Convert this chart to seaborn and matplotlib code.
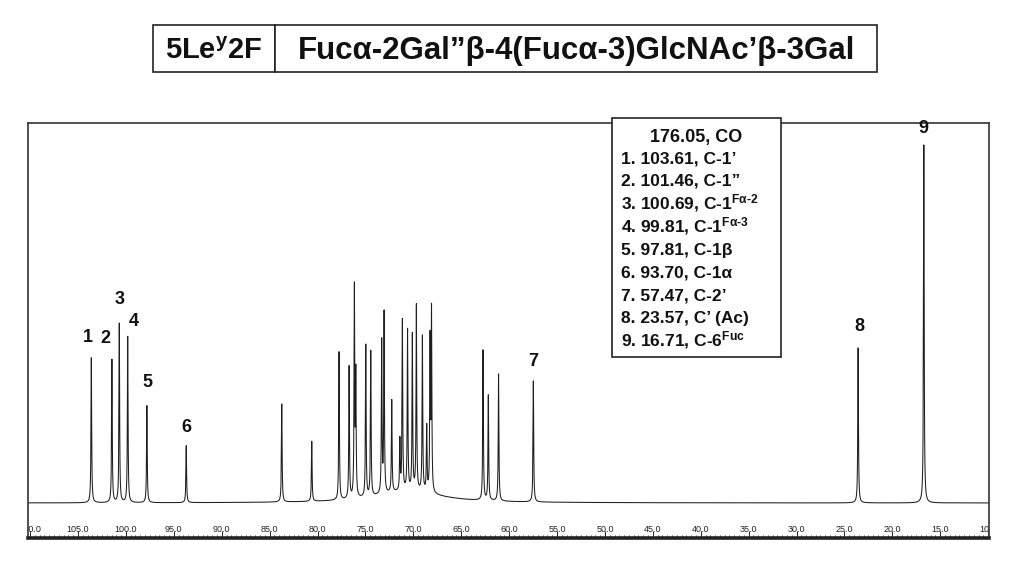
import numpy as np
import pandas as pd
import matplotlib
matplotlib.use("Agg")
import matplotlib.pyplot as plt
from matplotlib.patches import Rectangle
from matplotlib.ticker import FixedLocator, MultipleLocator
import seaborn as sns

# ---------------- data ----------------
label_ids = ["1", "2", "3", "4", "5", "6", "7", "8", "9"]
label_ppm = [103.61, 101.46, 100.69, 99.81, 97.81, 93.70, 57.47, 23.57, 16.71]
label_height = [145, 143, 179, 166, 97, 57, 121, 155, 358]

other_ppm = [83.73, 80.60, 77.75, 76.70, 76.15, 76.00, 74.96, 74.44, 73.30, 73.05,
             72.25, 71.40, 71.14, 70.60, 70.10, 69.68, 69.05, 68.60, 68.25, 68.10,
             62.72, 62.17, 61.10]
other_height = [98, 60, 148, 132, 208, 120, 152, 145, 152, 180,
                92, 50, 170, 160, 155, 185, 155, 65, 150, 180,
                150, 105, 127]

hump_ppm = [70.5]
hump_height = [12]
hump_width = [4.0]

tick_values = [110, 105, 100, 95, 90, 85, 80, 75, 70, 65, 60, 55, 50, 45, 40, 35, 30, 25, 20, 15, 10]
tick_labels = ["110.0", "105.0", "100.0", "95.0", "90.0", "85.0", "80.0", "75.0", "70.0", "65.0",
               "60.0", "55.0", "50.0", "45.0", "40.0", "35.0", "30.0", "25.0", "20.0", "15.0", "10.0"]

title_left = "5Le$^{y}$2F"
title_right = "Fucα-2Gal”β-4(Fucα-3)GlcNAc’β-3Gal"

legend_lines = [
    "176.05, CO",
    "1. 103.61, C-1’",
    "2. 101.46, C-1”",
    "3. 100.69, C-1$^{\\text{Fα-2}}$",
    "4. 99.81, C-1$^{\\text{Fα-3}}$",
    "5. 97.81, C-1β",
    "6. 93.70, C-1α",
    "7. 57.47, C-2’",
    "8. 23.57, C’ (Ac)",
    "9. 16.71, C-6$^{\\text{Fuc}}$",
]

# ---------------- style ----------------
sns.set_style("white")
plt.rcParams["font.family"] = ["Liberation Sans", "DejaVu Sans"]
plt.rcParams["mathtext.fontset"] = "custom"
plt.rcParams["mathtext.rm"] = "Liberation Sans:bold"
plt.rcParams["mathtext.bf"] = "Liberation Sans:bold"
plt.rcParams["mathtext.it"] = "Liberation Sans:bold"
plt.rcParams["mathtext.sf"] = "Liberation Sans:bold"
plt.rcParams["mathtext.default"] = "rm"

W, H = 1024, 574
fig = plt.figure(figsize=(W / 100, H / 100), dpi=100)

def fx(px):
    return px / W

def fy(py):
    return 1 - py / H

ax_l, ax_r, ax_t, ax_b = 28, 989, 123, 538
ax = fig.add_axes([fx(ax_l), fy(ax_b), (ax_r - ax_l) / W, (ax_b - ax_t) / H])

# ---------------- spectrum from the peak list ----------------
xlim = (110.22, 9.91)
grid = np.arange(xlim[1], xlim[0], 0.002)
hw = 0.04
spec = np.zeros_like(grid)
for p, h in zip(label_ppm + other_ppm, label_height + other_height):
    spec += h * hw ** 2 / ((grid - p) ** 2 + hw ** 2)
for p, h, w in zip(hump_ppm, hump_height, hump_width):
    spec += h * w ** 2 / ((grid - p) ** 2 + w ** 2)

df = pd.DataFrame({"ppm": grid, "intensity": spec})
sns.lineplot(data=df, x="ppm", y="intensity", ax=ax, color="#1e1e1e",
             linewidth=0.75, estimator=None, sort=False)

ax.set_xlim(*xlim)
base_px = 503
ax.set_ylim(-(ax_b - base_px), base_px - ax_t)
ax.set_xlabel("")
ax.set_ylabel("")
ax.set_yticks([])

ax.xaxis.set_major_locator(FixedLocator(tick_values))
ax.set_xticklabels(tick_labels)
ax.xaxis.set_minor_locator(MultipleLocator(0.5))
ax.tick_params(axis="x", which="major", direction="in", length=5, width=0.7,
               pad=-9.5, labelsize=6.5, colors="#222222", bottom=True)
ax.tick_params(axis="x", which="minor", direction="in", length=2, width=0.6,
               bottom=True, colors="#222222")
for lbl in ax.get_xticklabels():
    lbl.set_clip_on(True)
    lbl.set_clip_box(ax.bbox)

for s in ["left", "right", "top"]:
    ax.spines[s].set_linewidth(1.2)
    ax.spines[s].set_color("#333333")
ax.spines["bottom"].set_linewidth(2.6)
ax.spines["bottom"].set_color("#222222")

# ---------------- peak labels ----------------
lab_dx = [-3, -7, 0, 6, 1, 0, 0, 1, 0]
lab_dy = [20, 21, 24, 15, 23, 18, 20, 21, 16]
for t, p, h, dx, dy in zip(label_ids, label_ppm, label_height, lab_dx, lab_dy):
    ax.annotate(t, xy=(p, h), xytext=(dx * 0.72, dy * 0.72), textcoords="offset points",
                ha="center", va="center", fontsize=13, fontweight="bold", color="#111111")

# ---------------- title boxes ----------------
tb_l, tb_m, tb_r, tb_t, tb_b = 153, 275, 877, 25, 72
for x0, x1 in [(tb_l, tb_m), (tb_m, tb_r)]:
    fig.add_artist(Rectangle((fx(x0), fy(tb_b)), (x1 - x0) / W, (tb_b - tb_t) / H,
                             transform=fig.transFigure, facecolor="white",
                             edgecolor="#222222", linewidth=1.2))
fig.text(fx((tb_l + tb_m) / 2), fy(59), title_left, ha="center", va="baseline",
         fontsize=21, fontweight="bold", color="#111111")
fig.text(fx((tb_m + tb_r) / 2 + 1), fy(59), title_right, ha="center", va="baseline",
         fontsize=22.5, fontweight="bold", color="#111111")

# ---------------- legend box ----------------
lb_l, lb_r, lb_t, lb_b = 612, 781, 118, 357
fig.add_artist(Rectangle((fx(lb_l), fy(lb_b)), (lb_r - lb_l) / W, (lb_b - lb_t) / H,
                         transform=fig.transFigure, facecolor="white",
                         edgecolor="#222222", linewidth=1.2, zorder=5))
for i, line in enumerate(legend_lines):
    if i == 0:
        fig.text(fx((lb_l + lb_r) / 2), fy(142), line, ha="center", va="baseline",
                 fontsize=13, fontweight="bold", color="#111111", zorder=6)
    else:
        fig.text(fx(621), fy(163 + 22.9 * (i - 1)), line, ha="left", va="baseline",
                 fontsize=12.5, fontweight="bold", color="#111111", zorder=6)

fig.savefig("out.png", dpi=100)
